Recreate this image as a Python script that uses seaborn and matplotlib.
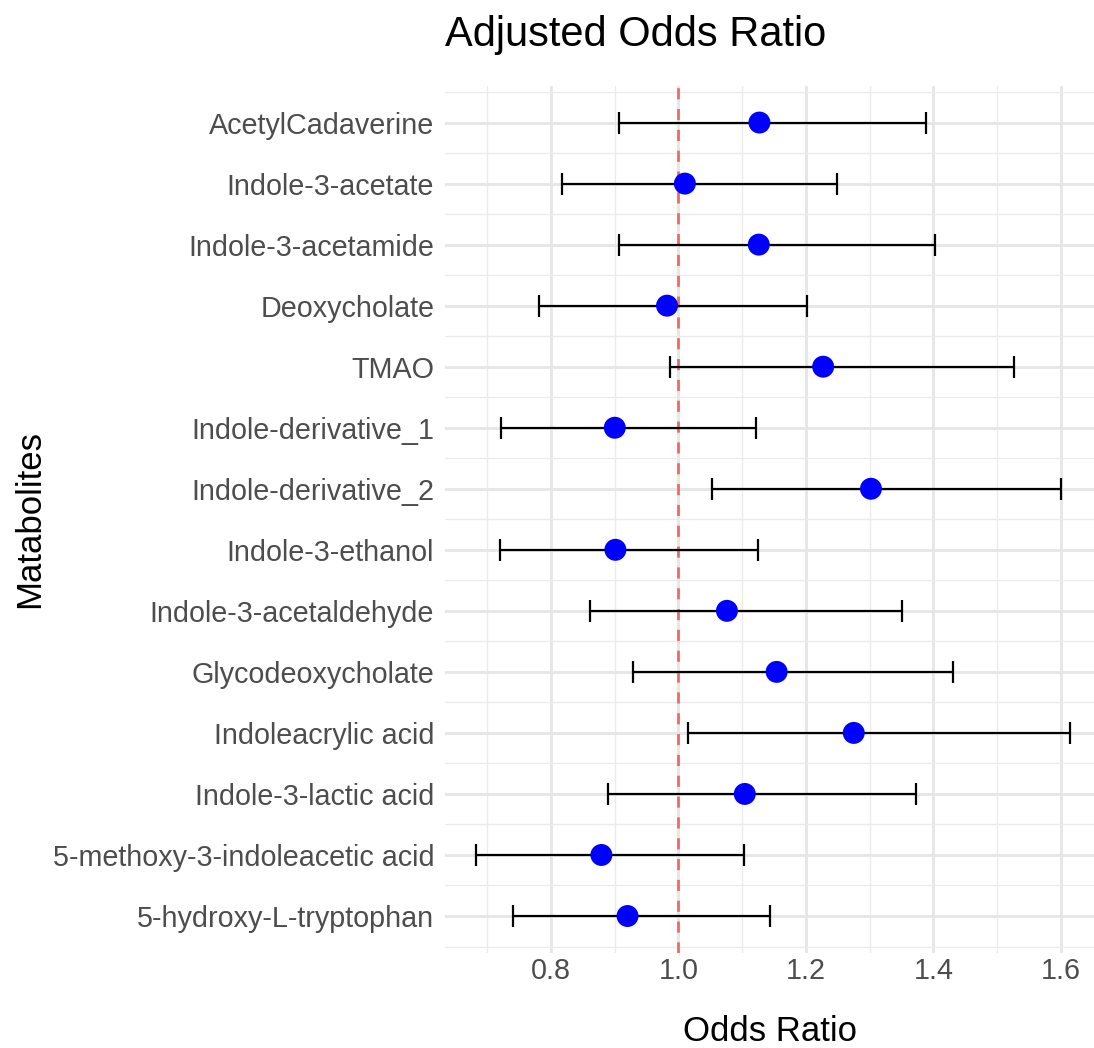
import matplotlib.pyplot as plt
from matplotlib.ticker import MultipleLocator, FixedLocator
import numpy as np
import pandas as pd
import seaborn as sns

metabolites = [
    "AcetylCadaverine", "Indole-3-acetate", "Indole-3-acetamide", "Deoxycholate",
    "TMAO", "Indole-derivative_1", "Indole-derivative_2", "Indole-3-ethanol",
    "Indole-3-acetaldehyde", "Glycodeoxycholate", "Indoleacrylic acid",
    "Indole-3-lactic acid", "5-methoxy-3-indoleacetic acid", "5-hydroxy-L-tryptophan",
]
odds_ratio = [1.127, 1.010, 1.126, 0.982, 1.227, 0.900, 1.302, 0.901,
              1.076, 1.154, 1.275, 1.104, 0.879, 0.920]
ci_low = [0.906, 0.817, 0.906, 0.781, 0.986, 0.721, 1.053, 0.720,
          0.861, 0.929, 1.015, 0.889, 0.683, 0.741]
ci_high = [1.389, 1.249, 1.403, 1.201, 1.526, 1.122, 1.601, 1.125,
           1.351, 1.431, 1.615, 1.373, 1.102, 1.143]

df = pd.DataFrame({"Metabolite": metabolites, "OR": odds_ratio,
                   "lo": ci_low, "hi": ci_high})

sns.set_theme(style="white")
plt.rcParams["font.family"] = ["Liberation Sans", "DejaVu Sans"]

fig = plt.figure(figsize=(10.94, 10.48), dpi=100)
ax = fig.add_axes([0.407, 0.091, 0.593, 0.827])

ypos = np.arange(len(df))
ax.errorbar(df["OR"], ypos,
            xerr=[df["OR"] - df["lo"], df["hi"] - df["OR"]],
            fmt="none", ecolor="black", elinewidth=1.6, capsize=8,
            capthick=1.6, zorder=3)
sns.scatterplot(x=df["OR"], y=ypos, ax=ax, color="blue", s=250,
                edgecolor="none", zorder=4)
ax.axvline(1.0, color="red", alpha=0.55, lw=2, ls=(0, (4, 3.5)), zorder=2)

ax.set_yticks(ypos)
ax.set_yticklabels(df["Metabolite"])
ax.yaxis.set_minor_locator(FixedLocator(np.arange(-0.5, len(df), 1)))
ax.set_ylim(len(df) - 0.4, -0.6)

ax.set_xlim(0.634, 1.652)
ax.xaxis.set_minor_locator(MultipleLocator(0.1))
ax.set_xticks([0.8, 1.0, 1.2, 1.4, 1.6])
ax.set_xticklabels(["0.8", "1.0", "1.2", "1.4", "1.6"])

ax.grid(which="major", color="#E6E6E6", lw=2.0, zorder=0)
ax.grid(which="minor", color="#EBEBEB", lw=1.0, zorder=0)
ax.set_axisbelow(True)
for s in ax.spines.values():
    s.set_visible(False)
ax.tick_params(which="both", length=0, labelsize=20.7, labelcolor="#4D4D4D")
ax.tick_params(axis="y", pad=8)
ax.tick_params(axis="x", pad=3)

ax.set_xlabel("Odds Ratio", fontsize=25, color="black", labelpad=22)
ax.set_ylabel("Matabolites", fontsize=25, color="black")
ax.yaxis.set_label_coords(-0.615, 0.5)
fig.text(0.581, 0.967, "Adjusted Odds Ratio", fontsize=30, color="black",
         ha="center", va="center")

fig.savefig("out.png", dpi=100)
